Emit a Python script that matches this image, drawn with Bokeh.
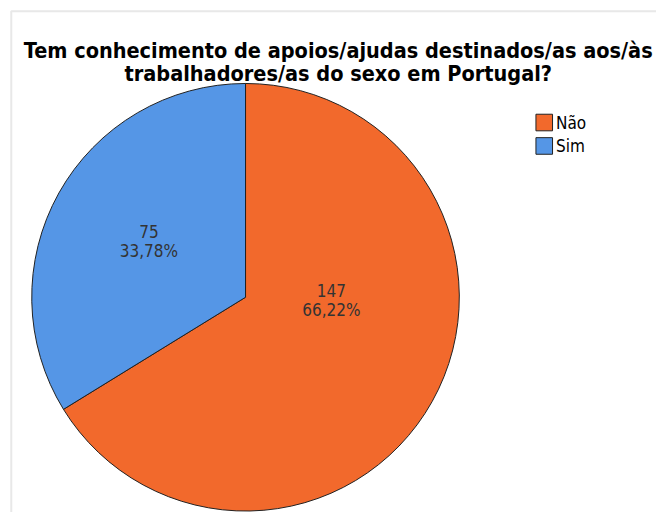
from bokeh.plotting import figure
from bokeh.models import Range1d, BoxAnnotation
from bokeh.core.properties import value
from bokeh.embed import file_html
from bokeh.resources import INLINE
import math

# ---- data ----
categories = ["Não", "Sim"]
counts = [147, 75]
colors = ["#F2692C", "#5596E6"]
title_lines = ["Tem conhecimento de apoios/ajudas destinados/as aos/às",
               "trabalhadores/as do sexo em Portugal?"]

W, H = 656, 512
S = W / 672.0                      # layout drawn in 672-wide reference units
p = figure(width=W, height=H, output_backend="svg", toolbar_location=None,
           x_range=Range1d(0, 672), y_range=Range1d(528 - H / S, 528),
           min_border=0)
p.axis.visible = False
p.grid.visible = False
p.outline_line_color = None
p.background_fill_color = "white"

def Y(sy):
    return 528 - sy

FONT = "DejaVu Sans Condensed"

# border frame (only top & left visible in the crop)
p.add_layout(BoxAnnotation(left=11, right=3000, top=Y(11), bottom=-3000,
                           fill_alpha=0, line_color="#b4b4b4", line_width=2))

# pie
cx, cy, R = 251, Y(304), 219
total = sum(counts)
start = math.pi / 2
starts, ends = [], []
for c in counts:
    a = 2 * math.pi * c / total
    starts.append(start)
    ends.append(start - a)
    start -= a
p.wedge(x=[cx] * len(counts), y=[cy] * len(counts), radius=R,
        start_angle=starts, end_angle=ends, direction="clock",
        fill_color=colors, line_color="#222222", line_width=1)

# slice labels (layout offsets relative to centre)
label_offsets = [(88, -3), (-99, 57)]
for c, (dx, dy) in zip(counts, label_offsets):
    pct = f"{100 * c / total:.2f}%".replace(".", ",")
    p.text(x=[cx + dx], y=[cy + dy + 10], text=[str(c)],
           text_font=value(FONT), text_font_size="17px", text_color="#333333",
           text_align="center", text_baseline="middle")
    p.text(x=[cx + dx], y=[cy + dy - 10], text=[pct],
           text_font=value(FONT), text_font_size="17px", text_color="#333333",
           text_align="center", text_baseline="middle")

# title
for i, t in enumerate(title_lines):
    p.text(x=[346], y=[Y(51 + 23.5 * i)], text=[t],
           text_font=value(FONT), text_font_style="bold", text_font_size="21.5px",
           text_color="black", text_align="center", text_baseline="alphabetic")

# legend
for i, (cat, col) in enumerate(zip(categories, colors)):
    yy = Y(125 + 24 * i)
    p.rect(x=[557], y=[yy], width=17, height=17, fill_color=col,
           line_color="#222222", line_width=1)
    p.text(x=[569], y=[yy], text=[cat], text_font=value(FONT),
           text_font_size="17px", text_color="black",
           text_align="left", text_baseline="middle")

open("out.html", "w").write(file_html(p, INLINE))
